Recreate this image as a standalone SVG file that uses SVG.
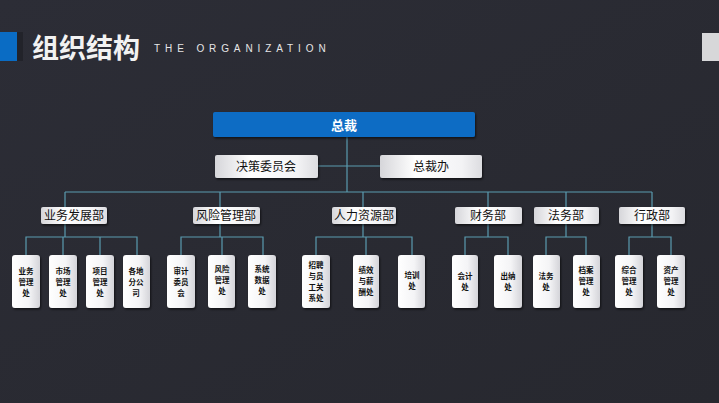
<svg xmlns="http://www.w3.org/2000/svg" width="719" height="403" viewBox="0 0 719 403">
<defs>
<linearGradient id="bg" x1="0" y1="0" x2="1" y2="1">
<stop offset="0" stop-color="#2c2d36"/>
<stop offset="1" stop-color="#27282f"/>
</linearGradient>
<linearGradient id="box" x1="0" y1="0" x2="1" y2="0">
<stop offset="0" stop-color="#d6d6da"/>
<stop offset="0.35" stop-color="#ffffff"/>
<stop offset="0.8" stop-color="#f3f3f5"/>
<stop offset="1" stop-color="#dcdce0"/>
</linearGradient>
<linearGradient id="leaf" x1="0" y1="0" x2="1" y2="0">
<stop offset="0" stop-color="#ffffff"/>
<stop offset="0.6" stop-color="#f4f4f6"/>
<stop offset="1" stop-color="#d4d4d9"/>
</linearGradient>
<filter id="sh" x="-20%" y="-20%" width="140%" height="140%">
<feDropShadow dx="1" dy="1.5" stdDeviation="1.2" flood-color="#000" flood-opacity="0.6"/>
</filter>
</defs>
<style>
.dept rect{fill:url(#box);filter:url(#sh)}
.leaf rect{fill:url(#leaf);filter:url(#sh)}
.dt{font-family:"Noto Sans CJK SC","Noto Sans",sans-serif;font-size:12px;fill:#111;text-anchor:middle}
.lt{font-family:"Noto Sans CJK SC","Noto Sans",sans-serif;font-size:7.5px;font-weight:700;fill:#111;text-anchor:middle}
.conn path{fill:none;stroke:#5a9bb0;stroke-width:1.2}
</style>
<rect width="719" height="403" fill="url(#bg)"/>
<g id="title">
<rect x="0" y="32" width="17" height="29" fill="#0a6cc4"/>
<rect x="17" y="32" width="6" height="29" fill="#22232a"/>
<text x="32" y="58" font-family="'Noto Sans CJK SC',sans-serif" font-size="27" font-weight="700" fill="#f2f2f2">组织结构</text>
<text x="154" y="52" font-family="'Liberation Sans',sans-serif" font-size="10" fill="#e6e6e6" letter-spacing="4.9">THE ORGANIZATION</text>
<rect x="702" y="33" width="17" height="28" fill="#d7d7d9"/>
</g>
<g class="conn" id="connectors">
<path d="M347 137V192"/>
<path d="M318 166H380"/>
<path d="M65 192H652"/>
<path d="M65 192V207M220 192V207M363 192V207M488 192V207M566 192V207M652 192V207"/>
<path d="M65 224V237M26 255V237H137V255M63 237V255M100 237V255"/>
<path d="M220 224V237M181 255V237H263V255M222 237V255"/>
<path d="M363 224V237M316 255V237H412V255M366 237V255"/>
<path d="M488 224V237M465 255V237H508V255"/>
<path d="M566 224V237M546 255V237H586V255"/>
<path d="M652 224V237M629 255V237H671V255"/>
</g>
<g id="n-ceo">
<rect x="213" y="112" width="262" height="25" rx="2" fill="#0a6cc4" filter="url(#sh)"/>
<text x="344" y="130" font-family="'Noto Sans CJK SC',sans-serif" font-size="13" font-weight="700" fill="#fff" text-anchor="middle">总裁</text>
</g>
<g id="n-jcwyh" class="dept">
<rect x="215" y="155" width="103" height="23" rx="2"/>
<text x="266" y="171" class="dt" font-size="13">决策委员会</text>
</g>
<g id="n-zcb" class="dept">
<rect x="380" y="155" width="102" height="23" rx="2"/>
<text x="431" y="171" class="dt" font-size="13">总裁办</text>
</g>
<g id="d1" class="dept"><rect x="41" y="207" width="66" height="17" rx="2"/><text x="74" y="220" class="dt">业务发展部</text></g>
<g id="d2" class="dept"><rect x="193" y="207" width="67" height="17" rx="2"/><text x="226" y="220" class="dt">风险管理部</text></g>
<g id="d3" class="dept"><rect x="332" y="207" width="64" height="17" rx="2"/><text x="364" y="220" class="dt">人力资源部</text></g>
<g id="d4" class="dept"><rect x="455" y="207" width="67" height="17" rx="2"/><text x="488" y="220" class="dt">财务部</text></g>
<g id="d5" class="dept"><rect x="534" y="207" width="65" height="17" rx="2"/><text x="566" y="220" class="dt">法务部</text></g>
<g id="d6" class="dept"><rect x="619" y="207" width="66" height="17" rx="2"/><text x="652" y="220" class="dt">行政部</text></g>
<g id="l1" class="leaf"><rect x="12" y="255" width="28" height="53" rx="3"/><text class="lt" x="26"><tspan x="26" y="274">业务</tspan><tspan x="26" y="285">管理</tspan><tspan x="26" y="296">处</tspan></text></g>
<g id="l2" class="leaf"><rect x="49" y="255" width="28" height="53" rx="3"/><text class="lt" x="63"><tspan x="63" y="274">市场</tspan><tspan x="63" y="285">管理</tspan><tspan x="63" y="296">处</tspan></text></g>
<g id="l3" class="leaf"><rect x="86" y="255" width="28" height="53" rx="3"/><text class="lt" x="100"><tspan x="100" y="274">项目</tspan><tspan x="100" y="285">管理</tspan><tspan x="100" y="296">处</tspan></text></g>
<g id="l4" class="leaf"><rect x="123" y="255" width="27" height="53" rx="3"/><text class="lt" x="136"><tspan x="136" y="274">各地</tspan><tspan x="136" y="285">分公</tspan><tspan x="136" y="296">司</tspan></text></g>
<g id="l5" class="leaf"><rect x="167" y="255" width="28" height="53" rx="3"/><text class="lt" x="181"><tspan x="181" y="274">审计</tspan><tspan x="181" y="285">委员</tspan><tspan x="181" y="296">会</tspan></text></g>
<g id="l6" class="leaf"><rect x="208" y="255" width="27" height="53" rx="3"/><text class="lt" x="222"><tspan x="222" y="272">风险</tspan><tspan x="222" y="283">管理</tspan><tspan x="222" y="294">处</tspan></text></g>
<g id="l7" class="leaf"><rect x="248" y="255" width="28" height="53" rx="3"/><text class="lt" x="262"><tspan x="262" y="272">系统</tspan><tspan x="262" y="283">数据</tspan><tspan x="262" y="294">处</tspan></text></g>
<g id="l8" class="leaf"><rect x="302" y="255" width="28" height="53" rx="3"/><text class="lt" x="316"><tspan x="316" y="268">招聘</tspan><tspan x="316" y="279">与员</tspan><tspan x="316" y="290">工关</tspan><tspan x="316" y="301">系处</tspan></text></g>
<g id="l9" class="leaf"><rect x="353" y="255" width="26" height="53" rx="3"/><text class="lt" x="366"><tspan x="366" y="273">绩效</tspan><tspan x="366" y="284">与薪</tspan><tspan x="366" y="295">酬处</tspan></text></g>
<g id="l10" class="leaf"><rect x="398" y="255" width="27" height="53" rx="3"/><text class="lt" x="412"><tspan x="412" y="278">培训</tspan><tspan x="412" y="289">处</tspan></text></g>
<g id="l11" class="leaf"><rect x="452" y="255" width="26" height="53" rx="3"/><text class="lt" x="465"><tspan x="465" y="279">会计</tspan><tspan x="465" y="290">处</tspan></text></g>
<g id="l12" class="leaf"><rect x="494" y="255" width="28" height="53" rx="3"/><text class="lt" x="508"><tspan x="508" y="279">出纳</tspan><tspan x="508" y="290">处</tspan></text></g>
<g id="l13" class="leaf"><rect x="533" y="255" width="27" height="53" rx="3"/><text class="lt" x="546"><tspan x="546" y="279">法务</tspan><tspan x="546" y="290">处</tspan></text></g>
<g id="l14" class="leaf"><rect x="573" y="255" width="27" height="53" rx="3"/><text class="lt" x="586"><tspan x="586" y="273">档案</tspan><tspan x="586" y="284">管理</tspan><tspan x="586" y="295">处</tspan></text></g>
<g id="l15" class="leaf"><rect x="615" y="255" width="28" height="53" rx="3"/><text class="lt" x="629"><tspan x="629" y="273">综合</tspan><tspan x="629" y="284">管理</tspan><tspan x="629" y="295">处</tspan></text></g>
<g id="l16" class="leaf"><rect x="657" y="255" width="28" height="53" rx="3"/><text class="lt" x="671"><tspan x="671" y="273">资产</tspan><tspan x="671" y="284">管理</tspan><tspan x="671" y="295">处</tspan></text></g>
</svg>
